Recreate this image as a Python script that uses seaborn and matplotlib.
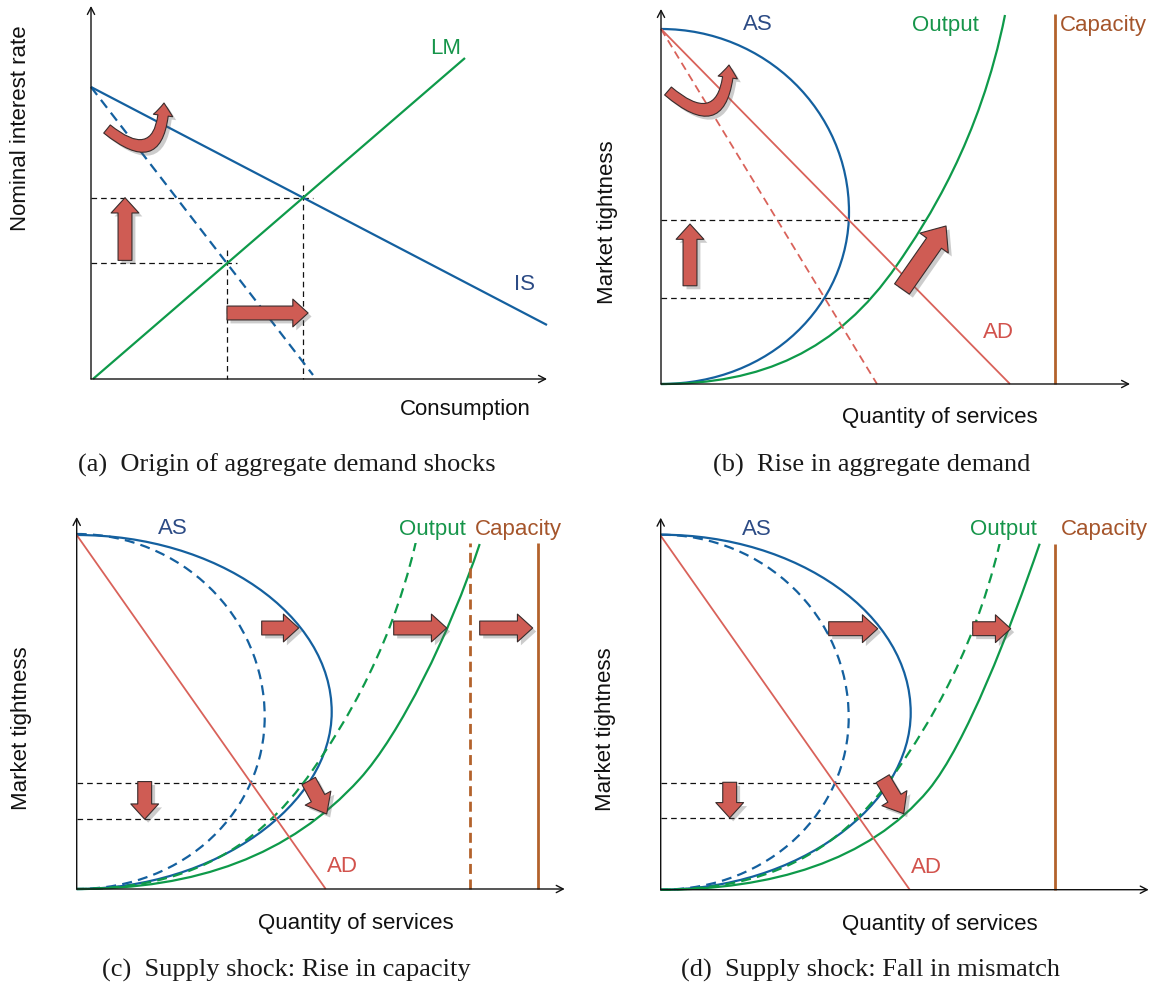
import numpy as np
import matplotlib
matplotlib.use("Agg")
import matplotlib.pyplot as plt
import seaborn as sns
from matplotlib.path import Path
from matplotlib.patches import PathPatch, FancyArrowPatch, Rectangle
import matplotlib.patheffects as pe

# ---------------------------------------------------------------------------
# Diagram values (quantity on x, tightness / interest rate on y)
# ---------------------------------------------------------------------------
# (a) IS-LM
is_x, is_y = [0, 456], [292, 54]            # IS curve
is_new_x, is_new_y = [0, 222], [292, 4]     # IS after the shock (dashed)
lm_x, lm_y = [2, 374], [0, 321]             # LM curve
axes_a = (456, 373)

# Aggregate supply: cubic Bezier control points (top -> widest -> origin)
as_base = [(0, 355), (104, 355), (188, 273), (188, 172), (188, 80), (110, 0), (0, 0)]
as_cap = [(0, 354), (140, 354), (255, 274), (255, 177), (255, 85), (140, 0), (0, 0)]
as_mis = [(0, 355), (137, 355), (250, 275), (250, 177), (250, 85), (138, 0), (0, 0)]

# Output curves: cubic Bezier control points (origin -> top)
out_base = [(0, 0), (100, 0), (176, 32), (236, 119), (266, 162.5), (319, 244), (344, 369)]
out_cap = [(0, 0), (120, 0), (213, 33), (283, 110), (323, 154), (373, 255), (403, 345)]
out_mis = [(0, 0), (110, 0), (208, 28), (268, 100), (305, 145), (349, 259), (379, 346)]

# Aggregate demand lines: (tightness intercept, quantity intercept)
ad_b_new = (355, 349)
ad_b_old = (355, 216)
ad_cd = (354, 249)

# Capacity positions
cap_b = 394
cap_c_old, cap_c_new = 393, 461
cap_d = 394
curve_top_cd = 346

axes_b = (469, 375)
axes_cd = (488, 372)

captions = ["(a)  Origin of aggregate demand shocks",
            "(b)  Rise in aggregate demand",
            "(c)  Supply shock: Rise in capacity",
            "(d)  Supply shock: Fall in mismatch"]

# ---------------------------------------------------------------------------
# Style
# ---------------------------------------------------------------------------
sns.set_theme(style="white")
plt.rcParams["font.family"] = ["Liberation Sans", "DejaVu Sans"]

W, H = 1156, 987
fig = plt.figure(figsize=(W / 100, H / 100), dpi=100)

BLUE = "#14609F"
GREEN = "#0E9A4A"
RED = "#D9625A"
BROWN = "#B3622C"
ARROW_FILL = "#CF5C54"
TXT_BLUE = "#2C4B85"
TXT_GREEN = "#16954A"
TXT_BROWN = "#A5552B"
TXT_RED = "#D2524C"
FS = 16


def make_panel(origin, xr=(-90, 505), yr=(-100, 395)):
    ox, oy = origin
    ax = fig.add_axes([(ox + xr[0]) / W, 1 - (oy - yr[0]) / H,
                       (xr[1] - xr[0]) / W, (yr[1] - yr[0]) / H])
    ax.set_xlim(*xr)
    ax.set_ylim(*yr)
    ax.axis("off")
    return ax


def seg(ax, xs, ys, color, lw, dashes=None, z=3):
    sns.lineplot(x=list(xs), y=list(ys), ax=ax, color=color, linewidth=lw,
                 sort=False, estimator=None, zorder=z)
    line = ax.lines[-1]
    line.set_solid_capstyle("butt")
    if dashes:
        line.set_dashes(dashes)
    return line


def bezier(ax, ctrl, color, lw, dashes=None, clip_top=None, z=3):
    codes = [Path.MOVETO] + [Path.CURVE4] * (len(ctrl) - 1)
    ls = (0, dashes) if dashes else "-"
    patch = PathPatch(Path(ctrl, codes), fill=False, edgecolor=color, lw=lw,
                      linestyle=ls, zorder=z, capstyle="butt")
    ax.add_patch(patch)
    if clip_top is not None:
        rect = Rectangle((-50, -50), 600, clip_top + 50, transform=ax.transData)
        patch.set_clip_path(rect)


def flatten(ctrl, n=400):
    # polyline of a cubic Bezier chain, used for locating crossings
    c = np.asarray(ctrl, float)
    out = []
    t = np.linspace(0, 1, n)[:, None]
    for i in range(0, len(c) - 1, 3):
        p0, p1, p2, p3 = c[i:i + 4]
        out.append((1 - t) ** 3 * p0 + 3 * (1 - t) ** 2 * t * p1
                   + 3 * (1 - t) * t ** 2 * p2 + t ** 3 * p3)
    return np.vstack(out)


def ad_meets_as(ad, as_ctrl):
    pts = flatten(as_ctrl)
    top, xint = ad
    g = pts[:, 1] - top * (1 - pts[:, 0] / xint)
    idx = np.where(g[:-1] * g[1:] < 0)[0][-1]
    f = g[idx] / (g[idx] - g[idx + 1])
    return pts[idx] + f * (pts[idx + 1] - pts[idx])


def x_on_output(level, out_ctrl):
    pts = flatten(out_ctrl)
    return float(np.interp(level, pts[:, 1], pts[:, 0]))


def axes_arrows(ax, size):
    xl, yl = size
    for end in [(xl, 0), (0, yl)]:
        ax.add_patch(FancyArrowPatch((0, 0), end, arrowstyle="->,head_length=5,head_width=2.6",
                                     mutation_scale=1, shrinkA=0, shrinkB=0, color="#111111",
                                     lw=1.0, zorder=4))


def block_arrow(ax, start, end, body=10, head_w=20, head_l=11, rad=0.0):
    style = f"simple,head_length={head_l},head_width={head_w},tail_width={body}"
    arr = FancyArrowPatch(start, end, arrowstyle=style, connectionstyle=f"arc3,rad={rad}",
                          mutation_scale=1, shrinkA=0, shrinkB=0, facecolor=ARROW_FILL,
                          edgecolor="#3a2c2c", linewidth=0.8, zorder=8)
    arr.set_path_effects([pe.SimplePatchShadow(offset=(2.5, -2.5), shadow_rgbFace="0.35", alpha=0.3),
                          pe.Normal()])
    ax.add_patch(arr)


def guide(ax, xs, ys):
    seg(ax, xs, ys, "#111111", 0.9, dashes=(4.5, 3.2), z=2)


def ylabel(ax, text, pos):
    ax.text(*pos, text, rotation=90, ha="center", va="center", fontsize=FS, color="#111111")


def xlabel(ax, text, pos):
    ax.text(*pos, text, ha="center", va="center", fontsize=FS, color="#111111")


def caption(ax, text, pos):
    ax.text(*pos, text, ha="center", va="center", fontsize=19, color="#1a1a1a",
            family=["Liberation Serif", "DejaVu Serif"])


# ---------------------------------------------------------------------------
# (a) Origin of aggregate demand shocks
# ---------------------------------------------------------------------------
ax = make_panel((91, 380))
axes_arrows(ax, axes_a)
is_slope = (is_y[1] - is_y[0]) / (is_x[1] - is_x[0])
is_new_slope = (is_new_y[1] - is_new_y[0]) / (is_new_x[1] - is_new_x[0])
lm_slope = (lm_y[1] - lm_y[0]) / (lm_x[1] - lm_x[0])


def meet(i0, s_is):
    x = (i0 - lm_y[0] + lm_slope * lm_x[0]) / (lm_slope - s_is)
    return x, i0 + s_is * x


hi = meet(is_y[0], is_slope)
lo = meet(is_new_y[0], is_new_slope)
over = 10
for px, py in (hi, lo):
    guide(ax, [0, px + over], [py, py])
    guide(ax, [px, px], [py + over + 3, 0])
seg(ax, is_x, is_y, BLUE, 1.6)
seg(ax, is_new_x, is_new_y, BLUE, 1.6, dashes=(4.5, 2.8))
seg(ax, lm_x, lm_y, GREEN, 1.6)
block_arrow(ax, (34, lo[1] + 3), (34, hi[1]))
block_arrow(ax, (lo[0], 66), (hi[0] + 5, 66))
block_arrow(ax, (16, 250), (73, 276), body=7.5, head_w=14, head_l=9, rad=1.0)
ax.text(355, 332, "LM", ha="center", va="center", fontsize=FS, color=TXT_GREEN)
ax.text(433, 96, "IS", ha="center", va="center", fontsize=FS, color=TXT_BLUE)
xlabel(ax, "Consumption", (374, -29))
ylabel(ax, "Nominal interest rate", (-71, 252))
caption(ax, captions[0], (196, -85))

# ---------------------------------------------------------------------------
# (b) Rise in aggregate demand
# ---------------------------------------------------------------------------
ax = make_panel((661, 385))
axes_arrows(ax, axes_b)
lev_hi = ad_meets_as(ad_b_new, as_base)[1]
lev_lo = ad_meets_as(ad_b_old, as_base)[1]
for lev in (lev_hi, lev_lo):
    guide(ax, [0, x_on_output(lev, out_base)], [lev, lev])
bezier(ax, as_base, BLUE, 1.6)
bezier(ax, out_base, GREEN, 1.6)
seg(ax, [0, ad_b_new[1]], [ad_b_new[0], 0], RED, 1.3)
seg(ax, [0, ad_b_old[1]], [ad_b_old[0], 0], RED, 1.3, dashes=(4.5, 2.8))
seg(ax, [cap_b, cap_b], [0, 370], BROWN, 2.0)
block_arrow(ax, (29, lev_lo + 12), (29, lev_hi - 4))
block_arrow(ax, (241, 95), (285, 158), body=13, head_w=25, head_l=15)
block_arrow(ax, (7, 293), (68, 319), body=7.5, head_w=14, head_l=9, rad=1.0)
ax.text(97, 360, "AS", ha="center", va="center", fontsize=FS, color=TXT_BLUE)
ax.text(284, 360, "Output", ha="center", va="center", fontsize=FS, color=TXT_GREEN)
ax.text(442, 360, "Capacity", ha="center", va="center", fontsize=FS, color=TXT_BROWN)
ax.text(337, 53, "AD", ha="center", va="center", fontsize=FS, color=TXT_RED)
xlabel(ax, "Quantity of services", (279, -32))
ylabel(ax, "Market tightness", (-54, 163))
caption(ax, captions[1], (211, -80))


# ---------------------------------------------------------------------------
# (c) and (d) Supply shocks
# ---------------------------------------------------------------------------
def supply_panel(origin, as_new, out_new, caps, shifts, down_x, diag, cap_label_x,
                 out_label_x, cap_text, text):
    ax = make_panel(origin)
    axes_arrows(ax, axes_cd)
    lev_old = ad_meets_as(ad_cd, as_base)[1]
    lev_new = ad_meets_as(ad_cd, as_new)[1]
    guide(ax, [0, x_on_output(lev_old, out_base)], [lev_old, lev_old])
    guide(ax, [0, x_on_output(lev_new, out_new)], [lev_new, lev_new])
    bezier(ax, as_base, BLUE, 1.6, dashes=(4.5, 2.8))
    bezier(ax, as_new, BLUE, 1.6)
    bezier(ax, out_base, GREEN, 1.6, dashes=(4.5, 2.8), clip_top=curve_top_cd)
    bezier(ax, out_new, GREEN, 1.6)
    seg(ax, [0, ad_cd[1]], [ad_cd[0], 0], RED, 1.3)
    for cx, dashed in caps:
        seg(ax, [cx, cx], [0, curve_top_cd], BROWN, 2.0, dashes=(3.6, 2.0) if dashed else None)
    for x0, x1 in shifts:
        block_arrow(ax, (x0, 261), (x1, 261))
    block_arrow(ax, (down_x, lev_old + 1), (down_x, lev_new))
    block_arrow(ax, diag[0], diag[1], body=11, head_w=21, head_l=13)
    ax.text(96, 361, "AS", ha="center", va="center", fontsize=FS, color=TXT_BLUE)
    ax.text(out_label_x, 361, "Output", ha="center", va="center", fontsize=FS, color=TXT_GREEN)
    ax.text(cap_label_x, 361, cap_text, ha="center", va="center", fontsize=FS, color=TXT_BROWN)
    ax.text(266, 23, "AD", ha="center", va="center", fontsize=FS, color=TXT_RED)
    xlabel(ax, "Quantity of services", (279, -34))
    ylabel(ax, "Market tightness", (-55, 162))
    caption(ax, text, (210, -80))


supply_panel((76.7, 890), as_cap, out_cap,
             caps=[(cap_c_old, True), (cap_c_new, False)],
             shifts=[(185, 222), (317, 370), (403, 456)],
             down_x=68, diag=((232, 108), (250, 75)),
             cap_label_x=442, out_label_x=356, cap_text="Capacity", text=captions[2])

supply_panel((660.7, 890.7), as_mis, out_mis,
             caps=[(cap_d, False)],
             shifts=[(168, 217), (312, 350)],
             down_x=69, diag=((222, 111), (243, 76)),
             cap_label_x=444, out_label_x=343, cap_text="Capacity", text=captions[3])

fig.savefig("out.png", dpi=100, facecolor="white")
